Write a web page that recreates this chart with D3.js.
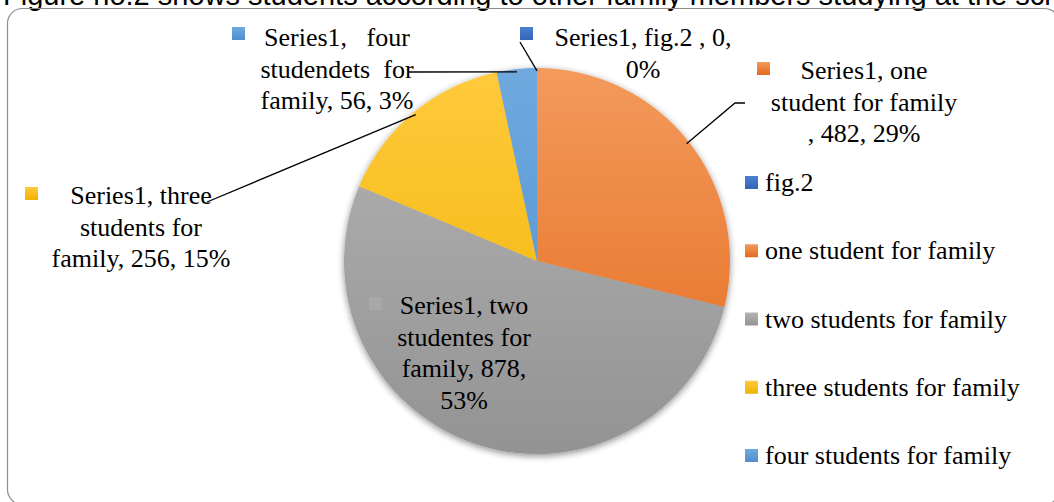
<!DOCTYPE html>
<html>
<head>
<meta charset="utf-8">
<script src="https://cdnjs.cloudflare.com/ajax/libs/d3/7.8.5/d3.min.js"></script>
<style>
  body { margin: 0; background: #fff; overflow: hidden; }
  svg { display: block; }
</style>
</head>
<body>
<script>
// data
var categories = ["fig.2", "one student for family", "two students for family", "three students for family", "four students for family"];
var values = [0, 482, 878, 256, 56];
var labelLines = [
  ["Series1, fig.2 , 0,", "0%"],
  ["Series1, one", "student for family", ", 482, 29%"],
  ["Series1, two", "studentes for", "family, 878,", "53%"],
  ["Series1, three", "students for", "family, 256, 15%"],
  ["Series1,   four", "studendets  for", "family, 56, 3%"]
];
var title = "Figure no.2 shows students according to other family members studying at the school";

// colours: [top, bottom] of each slice gradient
var colors = [
  ["#4a7fd0", "#3565b8"],
  ["#f39a5c", "#e46a1c"],
  ["#b4b4b4", "#939393"],
  ["#ffca3c", "#eeb200"],
  ["#6fa9de", "#4f8fce"]
];

// layout for the data labels: square position, text centre, first line y, leader start
var labelLayout = [
  {sq: [520, 27], cx: 643, y: 46, lead: [520, 42]},
  {sq: [757, 62], cx: 864, y: 79, lead: [745, 103], leadH: 735},
  {sq: [369, 297], cx: 464, y: 314, lead: null},
  {sq: [25, 187], cx: 141, y: 204, lead: [207, 202]},
  {sq: [232, 27], cx: 337, y: 46, lead: [409, 72]}
];

var W = 1054, H = 502;
var cx = 537, cy = 261, r = 193;
var font = "'Liberation Serif', 'Times New Roman', serif";

var svg = d3.select("body").append("svg")
  .attr("width", W)
  .attr("height", H);

var defs = svg.append("defs");

colors.forEach(function(c, i) {
  // slice gradient, in the pie group's own coordinates
  var g = defs.append("linearGradient")
    .attr("id", "grad" + i)
    .attr("gradientUnits", "userSpaceOnUse")
    .attr("x1", 0).attr("y1", -r)
    .attr("x2", 0).attr("y2", r);
  g.append("stop").attr("offset", "0%").attr("stop-color", c[0]);
  g.append("stop").attr("offset", "100%").attr("stop-color", c[1]);
  // small squares
  var g2 = defs.append("linearGradient")
    .attr("id", "sq" + i)
    .attr("x1", 0).attr("y1", 0).attr("x2", 0).attr("y2", 1);
  g2.append("stop").attr("offset", "0%").attr("stop-color", c[0]);
  g2.append("stop").attr("offset", "100%").attr("stop-color", c[1]);
});

var shadow = defs.append("filter").attr("id", "shadow")
  .attr("x", "-20%").attr("y", "-20%").attr("width", "140%").attr("height", "140%");
shadow.append("feGaussianBlur").attr("in", "SourceAlpha").attr("stdDeviation", 3.5);
shadow.append("feOffset").attr("dx", 0).attr("dy", 2).attr("result", "blur");
shadow.append("feComponentTransfer").append("feFuncA").attr("type", "linear").attr("slope", 0.45);
var merge = shadow.append("feMerge");
merge.append("feMergeNode");
merge.append("feMergeNode").attr("in", "SourceGraphic");

// title, cut off at the top like in the picture
svg.append("text")
  .attr("x", 3)
  .attr("y", 5)
  .style("font-family", "'Liberation Sans', Arial, sans-serif")
  .style("font-size", "29px")
  .attr("fill", "#000")
  .text(title);

// chart border
svg.append("rect")
  .attr("x", 7.5).attr("y", 8.5)
  .attr("width", 1052).attr("height", 496)
  .attr("rx", 15).attr("ry", 15)
  .attr("fill", "none")
  .attr("stroke", "#8c8c8c")
  .attr("stroke-width", 1.2);

var pie = d3.pie().sort(null).value(function(d) { return d; });
var arcs = pie(values);
var arc = d3.arc().innerRadius(0).outerRadius(r);

var pieG = svg.append("g")
  .attr("transform", "translate(" + cx + "," + cy + ")")
  .attr("filter", "url(#shadow)");

pieG.selectAll("path")
  .data(arcs)
  .enter()
  .append("path")
    .attr("d", arc)
    .attr("fill", function(d, i) { return "url(#grad" + i + ")"; });

// leader lines
arcs.forEach(function(d, i) {
  var L = labelLayout[i];
  if (!L.lead) return;
  var a = (d.startAngle + d.endAngle) / 2;
  var ex = cx + Math.sin(a) * r * 0.985, ey = cy - Math.cos(a) * r * 0.985;
  var pts = [];
  if (L.leadH) pts.push([L.lead[0], L.lead[1]], [L.leadH, L.lead[1]]);
  else pts.push(L.lead);
  pts.push([ex, ey]);
  svg.append("path")
    .attr("d", d3.line()(pts))
    .attr("fill", "none")
    .attr("stroke", "#000")
    .attr("stroke-width", 1.3);
});

// data labels
labelLines.forEach(function(lines, i) {
  var L = labelLayout[i];
  var g = svg.append("g");
  g.append("rect")
    .attr("x", L.sq[0]).attr("y", L.sq[1])
    .attr("width", 13).attr("height", 13)
    .attr("fill", i === 2 ? "#a8a8a8" : "url(#sq" + i + ")");
  g.selectAll("text")
    .data(lines)
    .enter()
    .append("text")
      .attr("x", L.cx)
      .attr("y", function(t, j) { return L.y + j * 31.5; })
      .attr("text-anchor", "middle")
      .style("font-family", font)
      .style("font-size", "26px")
      .style("white-space", "pre")
      .attr("fill", "#000")
      .text(function(t) { return t; });
});

// legend
var legend = svg.append("g").attr("transform", "translate(745,0)");
var ly = d3.scalePoint().domain(categories).range([183, 456]);
var item = legend.selectAll("g.item")
  .data(categories)
  .enter()
  .append("g")
    .attr("class", "item")
    .attr("transform", function(d) { return "translate(0," + ly(d) + ")"; });
item.append("rect")
  .attr("x", 0).attr("y", -7)
  .attr("width", 13).attr("height", 13)
  .attr("fill", function(d, i) { return "url(#sq" + i + ")"; });
item.append("text")
  .attr("x", 20)
  .attr("y", 8)
  .style("font-family", font)
  .style("font-size", "26px")
  .attr("fill", "#000")
  .text(function(d) { return d; });
</script>
</body>
</html>
